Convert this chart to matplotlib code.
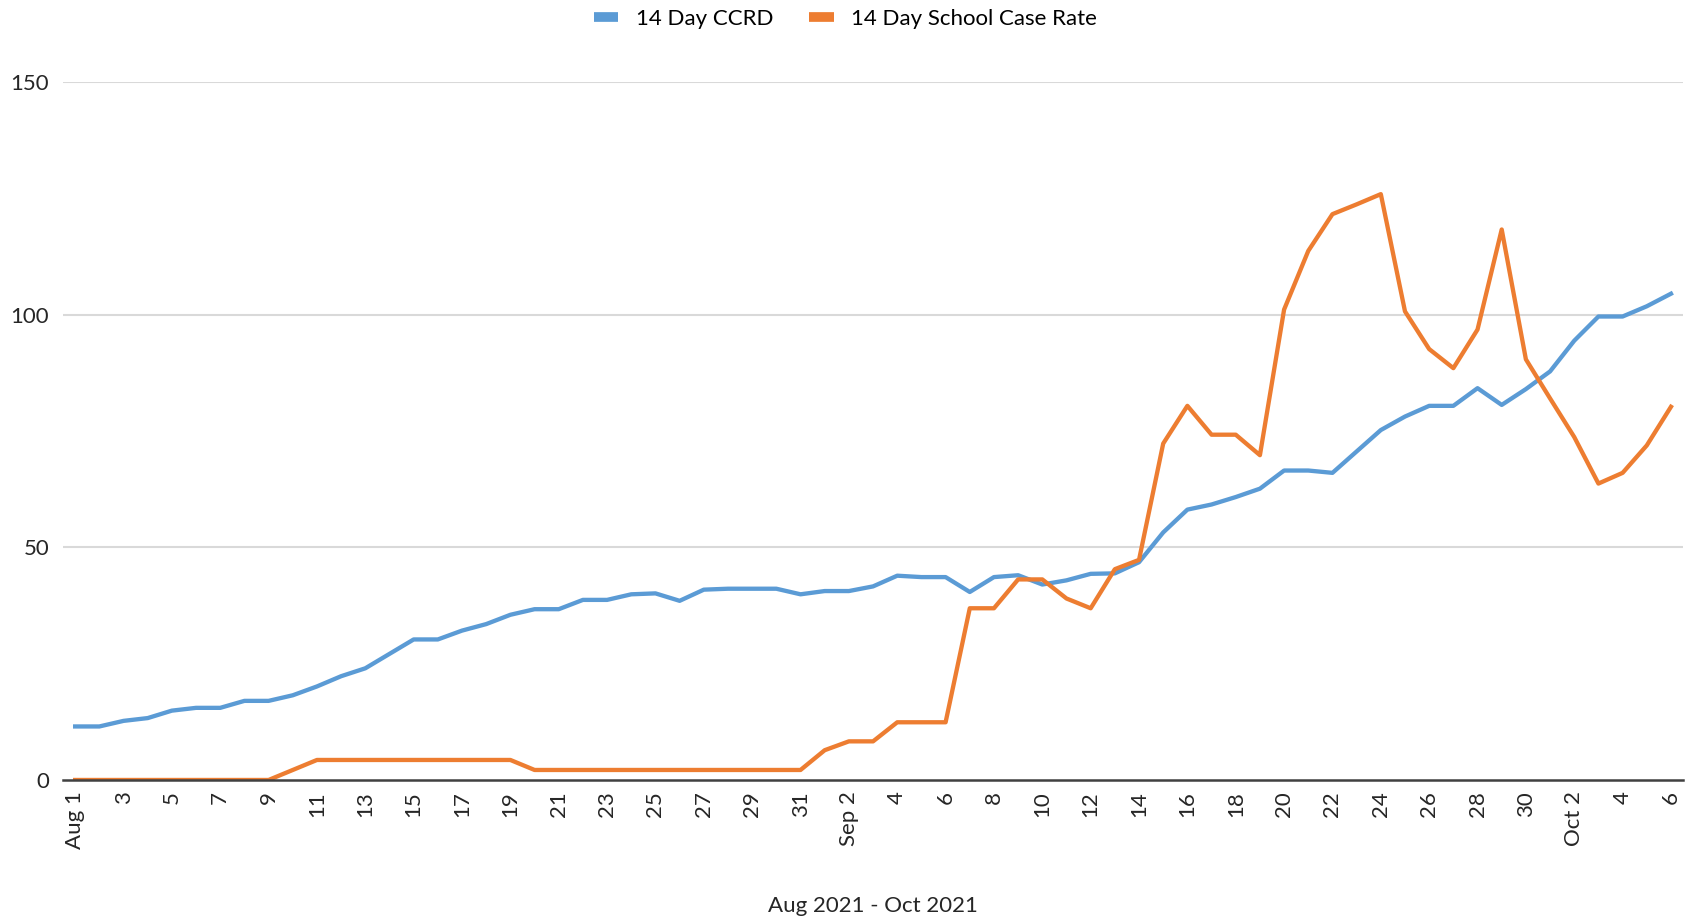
import matplotlib
matplotlib.use("Agg")
import matplotlib.pyplot as plt
import numpy as np
import pandas as pd
from matplotlib.lines import Line2D

# daily values, Aug 1 2021 - Oct 6 2021
dates = pd.date_range("2021-08-01", "2021-10-06", freq="D")

ccrd = np.array([
    11.5, 11.5, 12.7, 13.3, 14.9, 15.5, 15.5, 17.0, 17.0, 18.2,
    20.1, 22.3, 24.0, 27.1, 30.2, 30.2, 32.1, 33.5, 35.5, 36.7,
    36.7, 38.7, 38.7, 39.9, 40.1, 38.5, 40.9, 41.1, 41.1, 41.1,
    39.9, 40.6, 40.6, 41.6, 43.9, 43.6, 43.6, 40.4, 43.6, 44.0,
    42.0, 42.9, 44.3, 44.4, 46.8, 53.2, 58.1, 59.2, 60.8, 62.6,
    66.5, 66.5, 66.0, 70.6, 75.2, 78.1, 80.4, 80.4, 84.2, 80.6,
    84.0, 87.8, 94.4, 99.6, 99.6, 101.8, 104.5,
])

school = np.array([
    0, 0, 0, 0, 0, 0, 0, 0, 0, 2.15,
    4.3, 4.3, 4.3, 4.3, 4.3, 4.3, 4.3, 4.3, 4.3, 2.15,
    2.15, 2.15, 2.15, 2.15, 2.15, 2.15, 2.15, 2.15, 2.15, 2.15,
    2.15, 6.4, 8.3, 8.3, 12.4, 12.4, 12.4, 36.9, 36.9, 43.1,
    43.1, 39.0, 36.9, 45.3, 47.3, 72.3, 80.4, 74.2, 74.2, 69.8,
    101.1, 113.7, 121.6, 123.7, 125.9, 100.7, 92.6, 88.5, 96.8, 118.3,
    90.4, 82.0, 73.7, 63.7, 66.0, 71.9, 80.2,
])

series_names = ["14 Day CCRD", "14 Day School Case Rate"]
colors = ["#5B9BD5", "#ED7D31"]
y_ticks = [0, 50, 100, 150]

# tick labels every second day, month name on the first label of each month
tick_pos = list(range(0, len(dates), 2))
tick_labels = []
seen = set()
for i in tick_pos:
    d = dates[i]
    if d.month not in seen:
        seen.add(d.month)
        tick_labels.append(d.strftime("%b") + " " + str(d.day))
    else:
        tick_labels.append(str(d.day))

plt.rcParams["font.family"] = ["Lato", "DejaVu Sans"]
fs = 16

fig = plt.figure(figsize=(16.91, 9.16), dpi=100)
ax = fig.add_axes([0.0373, 0.1485, 0.958, 0.762])

x = np.arange(len(dates))
ax.plot(x, ccrd, color=colors[0], lw=3.1, solid_joinstyle="round")
ax.plot(x, school, color=colors[1], lw=3.1, solid_joinstyle="round")

ax.set_xlim(-0.5, len(dates) - 0.5)
ax.set_ylim(0, 150)
ax.set_yticks(y_ticks)
ax.set_yticklabels([str(v) for v in y_ticks], fontsize=fs, color="#262626")
ax.set_xticks(tick_pos)
ax.set_xticklabels(tick_labels, rotation=90, fontsize=fs, color="#262626")
ax.tick_params(axis="both", length=0)
ax.tick_params(axis="y", pad=10)
ax.tick_params(axis="x", pad=8)

for y in y_ticks[1:]:
    ax.axhline(y, color="#d9d9d9", lw=1.5, zorder=0)

for side in ["top", "right", "left"]:
    ax.spines[side].set_visible(False)
ax.spines["bottom"].set_color("#404040")
ax.spines["bottom"].set_linewidth(1.8)

ax.set_xlabel("Aug 2021 - Oct 2021", fontsize=fs, color="#262626", labelpad=34)

handles = [Line2D([], [], color=c, lw=7, solid_capstyle="butt") for c in colors]
fig.legend(handles, series_names, loc="upper center", bbox_to_anchor=(0.5, 1.012),
           ncol=2, frameon=False, fontsize=fs, handlelength=1.1,
           handletextpad=0.8, columnspacing=1.6)

fig.savefig("out.png", dpi=100)
